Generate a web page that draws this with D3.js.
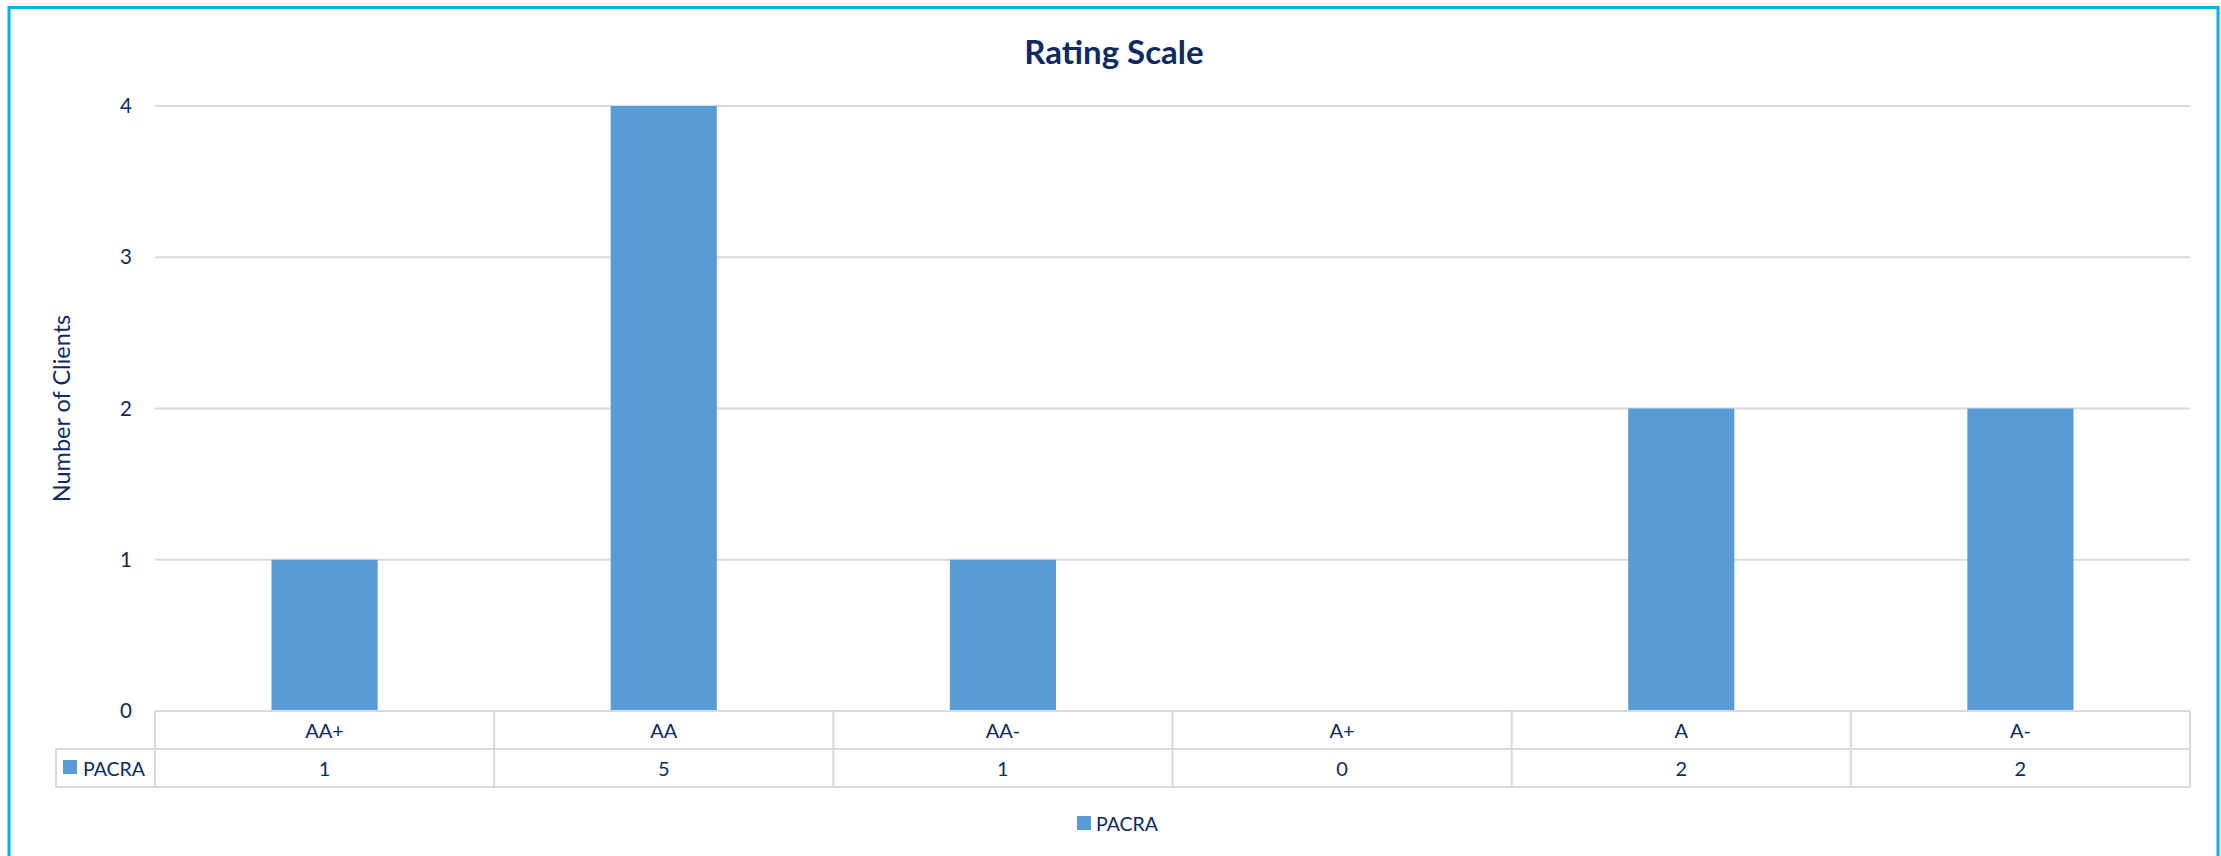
<!DOCTYPE html>
<html>
<head>
<meta charset="utf-8">
<script src="https://cdn.jsdelivr.net/npm/d3@7"></script>
<style>
  html, body { margin: 0; padding: 0; background: #ffffff; }
  svg { display: block; }
  text { font-family: Lato, "Noto Sans", sans-serif; fill: #0E2A5E; }
</style>
</head>
<body>
<svg id="chart" width="2221" height="856"></svg>
<script>
// ---- data ----
const categories = ["AA+", "AA", "AA-", "A+", "A", "A-"];
const seriesName = "PACRA";
const seriesValues = [1, 5, 1, 0, 2, 2];
const yTicks = [0, 1, 2, 3, 4];
const chartTitle = "Rating Scale";
const yAxisTitle = "Number of Clients";

// ---- layout ----
const W = 2221, H = 856;
const plot = { left: 155, right: 2190, top: 106, bottom: 711 };
const table = { keyLeft: 56, row1: 749, row2: 787 };
const barColor = "#5B9BD5";
const gridColor = "#D9D9D9";
const textColor = "#0E2A5E";

const svg = d3.select("#chart");

svg.append("rect").attr("x", 0).attr("y", 0).attr("width", W).attr("height", H).attr("fill", "#fff");

// outer border
svg.append("rect")
  .attr("x", 9).attr("y", 7.5)
  .attr("width", 2209).attr("height", 900)
  .attr("fill", "none").attr("stroke", "#00B0F0").attr("stroke-width", 3);

const x = d3.scaleBand().domain(categories).range([plot.left, plot.right]).paddingInner(0).paddingOuter(0);
const y = d3.scaleLinear().domain([0, d3.max(yTicks)]).range([plot.bottom, plot.top]).clamp(true);

// gridlines
svg.append("g").selectAll("line").data(yTicks.filter(t => t > 0)).join("line")
  .attr("x1", plot.left).attr("x2", plot.right)
  .attr("y1", d => y(d)).attr("y2", d => y(d))
  .attr("stroke", gridColor).attr("stroke-width", 2);

// y axis labels via d3 axis
const yAxis = svg.append("g").attr("transform", `translate(${plot.left - 21},0)`)
  .call(d3.axisLeft(y).tickValues(yTicks).tickSize(0).tickPadding(0).tickFormat(d3.format("d")));
yAxis.select(".domain").remove();
yAxis.selectAll("text")
  .attr("fill", textColor)
  .style("font-family", "Lato, 'Noto Sans', sans-serif")
  .style("font-size", "20.5px")
  .attr("x", -2);

// bars
const bw = x.bandwidth() * 0.313;
svg.append("g").selectAll("rect").data(categories.map((c, i) => ({ c, v: seriesValues[i] }))).join("rect")
  .attr("x", d => x(d.c) + x.bandwidth() / 2 - bw / 2)
  .attr("width", bw)
  .attr("y", d => y(d.v))
  .attr("height", d => y(0) - y(d.v))
  .attr("fill", barColor);

// data table
const tg = svg.append("g").attr("stroke", gridColor).attr("stroke-width", 2).attr("fill", "none");
tg.append("line").attr("x1", plot.left).attr("x2", plot.right).attr("y1", plot.bottom).attr("y2", plot.bottom);
tg.append("line").attr("x1", table.keyLeft).attr("x2", plot.right).attr("y1", table.row1).attr("y2", table.row1);
tg.append("line").attr("x1", table.keyLeft).attr("x2", plot.right).attr("y1", table.row2).attr("y2", table.row2);
tg.append("line").attr("x1", table.keyLeft).attr("x2", table.keyLeft).attr("y1", table.row1).attr("y2", table.row2);
const bounds = categories.map(c => x(c)).concat([plot.right]);
tg.selectAll("line.v").data(bounds).join("line").attr("class", "v")
  .attr("x1", d => d).attr("x2", d => d)
  .attr("y1", plot.bottom).attr("y2", table.row2);

// category labels
svg.append("g").selectAll("text").data(categories).join("text")
  .attr("x", d => x(d) + x.bandwidth() / 2)
  .attr("y", (plot.bottom + table.row1) / 2)
  .attr("text-anchor", "middle").attr("dominant-baseline", "central")
  .style("font-size", "20px")
  .text(d => d);

// values row
svg.append("g").selectAll("text").data(categories.map((c, i) => ({ c, v: seriesValues[i] }))).join("text")
  .attr("x", d => x(d.c) + x.bandwidth() / 2)
  .attr("y", (table.row1 + table.row2) / 2)
  .attr("text-anchor", "middle").attr("dominant-baseline", "central")
  .style("font-size", "20px")
  .text(d => d.v);

// table legend key
svg.append("rect").attr("x", 63).attr("y", 760).attr("width", 14).attr("height", 14).attr("fill", barColor);
svg.append("text").attr("x", 83).attr("y", (table.row1 + table.row2) / 2)
  .attr("dominant-baseline", "central").style("font-size", "19.5px").text(seriesName);

// title
svg.append("text").attr("x", 1114).attr("y", 51)
  .attr("text-anchor", "middle").attr("dominant-baseline", "central")
  .style("font-size", "33px").style("font-weight", "bold").text(chartTitle);

// y axis title
svg.append("text").attr("transform", `translate(61,${(plot.top + plot.bottom) / 2}) rotate(-90)`)
  .attr("text-anchor", "middle").attr("dominant-baseline", "central")
  .style("font-size", "23.5px").text(yAxisTitle);

// bottom legend
svg.append("rect").attr("x", 1077).attr("y", 816).attr("width", 14).attr("height", 14).attr("fill", barColor);
svg.append("text").attr("x", 1096).attr("y", 823)
  .attr("dominant-baseline", "central").style("font-size", "19.5px").text(seriesName);
</script>
</body>
</html>
